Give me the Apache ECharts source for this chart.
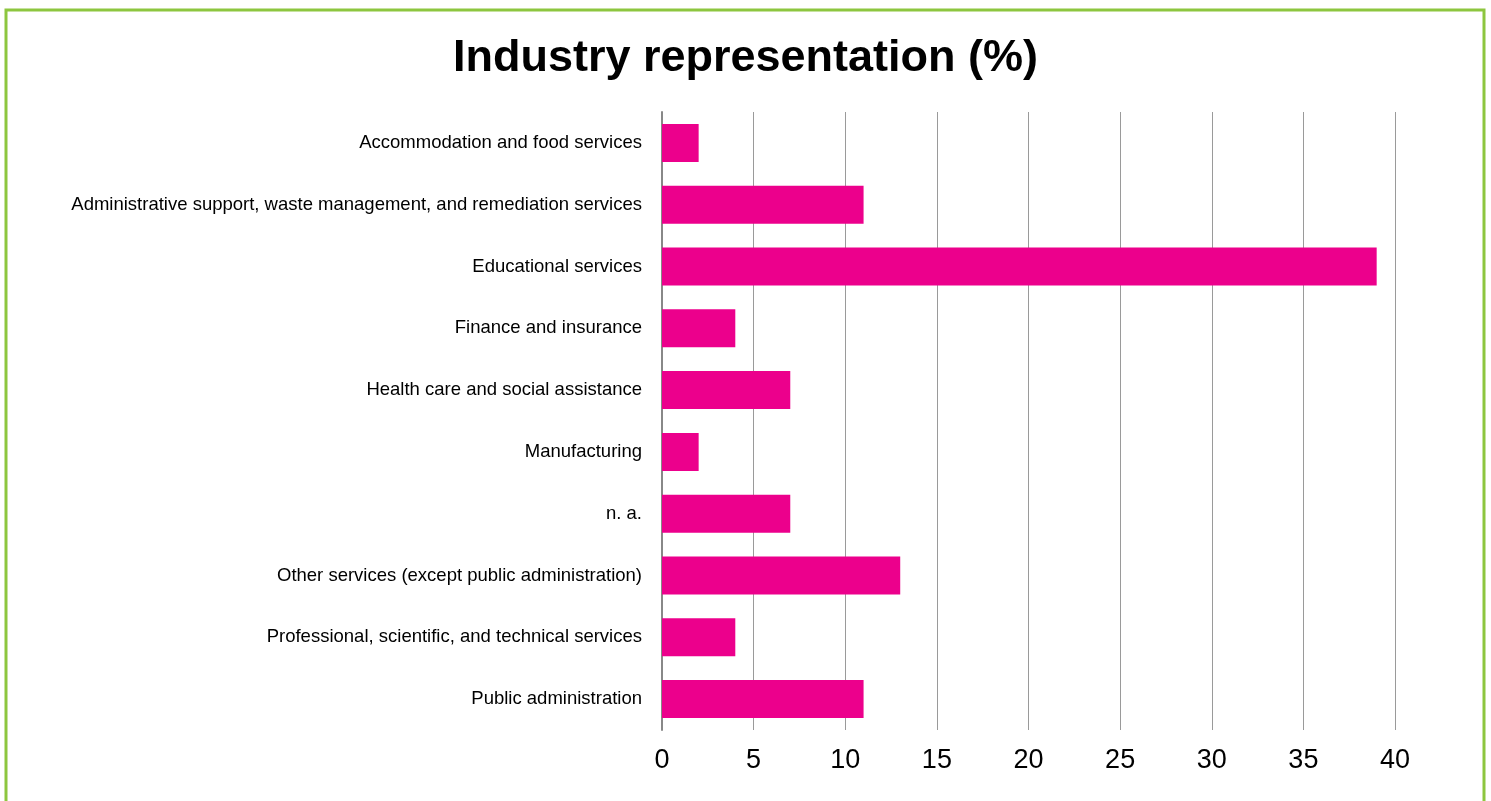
<!DOCTYPE html>
<html>
<head>
<meta charset="utf-8">
<script src="https://cdn.jsdelivr.net/npm/echarts@6/dist/echarts.min.js"></script>
<style>
html,body{margin:0;padding:0;background:#fff;}
#chart{width:1491px;height:801px;}
</style>
</head>
<body>
<div id="chart"></div>
<script>
const categories = [
  "Accommodation and food services",
  "Administrative support, waste management, and remediation services",
  "Educational services",
  "Finance and insurance",
  "Health care and social assistance",
  "Manufacturing",
  "n. a.",
  "Other services (except public administration)",
  "Professional, scientific, and technical services",
  "Public administration"
];
const values = [2, 11, 39, 4, 7, 2, 7, 13, 4, 11];
const xTicks = [0, 5, 10, 15, 20, 25, 30, 35, 40];
const titleText = "Industry representation (%)";

const chart = echarts.init(document.getElementById('chart'));
chart.setOption({
  animation: false,
  backgroundColor: '#fff',
  graphic: [{
    type: 'rect',
    shape: {x: 6, y: 10, width: 1478, height: 820},
    style: {fill: 'none', stroke: '#8DC63F', lineWidth: 3},
    silent: true
  }],
  title: {
    text: titleText,
    left: 'center',
    top: 31,
    textStyle: {fontFamily: 'Liberation Sans, Arial, sans-serif', fontWeight: 'bold', fontSize: 45, color: '#000'}
  },
  grid: {left: 662, right: 96, top: 112, bottom: 71, containLabel: false},
  xAxis: {
    type: 'value',
    min: xTicks[0],
    max: xTicks[xTicks.length - 1],
    interval: 5,
    axisLine: {show: false},
    axisTick: {show: false},
    splitLine: {show: true, lineStyle: {color: '#9a9a9a', width: 1}},
    axisLabel: {
      fontFamily: 'Liberation Sans, Arial, sans-serif',
      fontSize: 27, color: '#000', margin: 17
    }
  },
  yAxis: {
    type: 'category',
    data: categories,
    inverse: true,
    axisLine: {show: true, lineStyle: {color: '#888', width: 2}},
    axisTick: {show: false},
    axisLabel: {
      fontFamily: 'Liberation Sans, Arial, sans-serif',
      fontSize: 18.5, color: '#000', margin: 20,
      padding: [4, 0, 0, 0]
    }
  },
  series: [{
    type: 'bar',
    data: values,
    barWidth: 38,
    itemStyle: {color: '#EC008C'}
  }]
});
</script>
</body>
</html>
